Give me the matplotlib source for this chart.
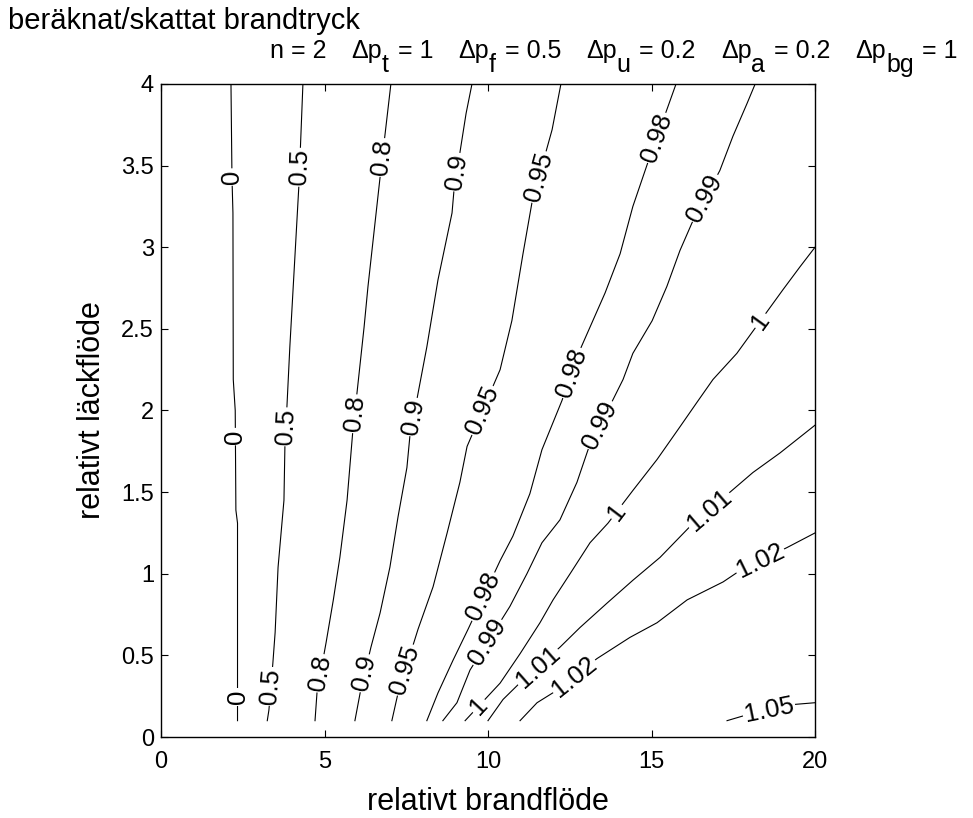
import numpy as np
import matplotlib
matplotlib.use('Agg')
import matplotlib.pyplot as plt

plt.rcParams['font.family'] = ['Liberation Sans', 'DejaVu Sans']

# isolinjer: relativt brandflöde (x) mot relativt läckflöde (y)
x_000 = [2.34, 2.34, 2.29, 2.27, 2.21, 2.20, 2.17, 2.14]
y_000 = [0.10, 1.31, 1.39, 2.00, 2.19, 3.21, 3.43, 4.00]

x_050 = [3.25, 3.30, 3.42, 3.49, 3.58, 3.76, 3.79, 3.85, 3.94, 4.10, 4.22, 4.34]
y_050 = [0.10, 0.165, 0.45, 0.64, 1.04, 1.45, 1.79, 2.02, 2.39, 2.96, 3.39, 4.00]

x_080 = [4.71, 4.77, 5.05, 5.27, 5.47, 5.69, 5.86, 6.21, 6.33, 6.70, 7.03]
y_080 = [0.10, 0.27, 0.58, 0.84, 1.10, 1.45, 1.86, 2.51, 2.76, 3.43, 4.00]

x_090 = [5.93, 6.09, 6.42, 6.70, 7.00, 7.25, 7.52, 7.61, 8.13, 8.47, 8.90, 8.96, 9.33, 9.51]
y_090 = [0.10, 0.27, 0.55, 0.76, 1.04, 1.35, 1.65, 1.84, 2.39, 2.80, 3.21, 3.35, 3.82, 4.00]

x_095 = [7.06, 7.25, 7.86, 8.32, 8.75, 9.14, 9.36, 10.37, 10.73, 11.07, 11.35, 11.96, 12.23]
y_095 = [0.10, 0.27, 0.66, 0.92, 1.25, 1.56, 1.78, 2.25, 2.55, 2.96, 3.28, 3.72, 4.00]

x_098 = [8.13, 8.47, 8.93, 9.39, 10.37, 10.76, 11.28, 11.65, 12.26, 12.81, 13.03,
         13.58, 14.04, 14.43, 14.89, 15.50, 15.75]
y_098 = [0.10, 0.27, 0.47, 0.66, 1.08, 1.23, 1.49, 1.76, 2.06, 2.37, 2.47,
         2.72, 2.96, 3.25, 3.52, 3.86, 4.00]

x_099 = [8.62, 9.05, 9.45, 10.67, 11.19, 11.65, 12.20, 12.72, 13.06, 14.13, 14.43,
         15.02, 15.47, 15.87, 16.24, 17.09, 17.49, 17.92, 18.17]
y_099 = [0.10, 0.21, 0.41, 0.80, 1.00, 1.19, 1.33, 1.56, 1.76, 2.19, 2.35,
         2.55, 2.76, 2.98, 3.15, 3.47, 3.68, 3.88, 4.00]

x_100 = [9.30, 10.37, 10.98, 11.59, 11.99, 12.51, 13.12, 13.67, 14.43, 15.17, 15.87,
         16.39, 16.88, 17.61, 19.02, 19.54, 20.00]
y_100 = [0.10, 0.33, 0.51, 0.70, 0.84, 1.00, 1.19, 1.31, 1.51, 1.70, 1.90,
         2.05, 2.19, 2.35, 2.74, 2.88, 3.00]

x_101 = [10.00, 10.46, 11.07, 12.20, 12.81, 13.64, 14.43, 15.26, 16.18, 18.10, 18.93, 20.00]
y_101 = [0.10, 0.23, 0.35, 0.55, 0.67, 0.82, 0.96, 1.10, 1.29, 1.62, 1.74, 1.91]

x_102 = [10.98, 11.50, 12.14, 13.33, 14.34, 15.17, 16.09, 17.19, 17.71, 19.14, 20.00]
y_102 = [0.10, 0.21, 0.29, 0.48, 0.61, 0.70, 0.84, 0.95, 1.02, 1.16, 1.25]

x_105 = [17.31, 17.90, 19.40, 20.00]
y_105 = [0.10, 0.135, 0.20, 0.21]

levels = ['0', '0.5', '0.8', '0.9', '0.95', '0.98', '0.99', '1', '1.01', '1.02', '1.05']
lines = [(x_000, y_000), (x_050, y_050), (x_080, y_080), (x_090, y_090),
         (x_095, y_095), (x_098, y_098), (x_099, y_099), (x_100, y_100),
         (x_101, y_101), (x_102, y_102), (x_105, y_105)]

# var etiketterna sitter längs varje linje (y-värde)
label_at = [[0.245, 1.84, 3.43],
            [0.31, 1.90, 3.49],
            [0.39, 1.98, 3.55],
            [0.39, 1.96, 3.46],
            [0.41, 2.00, 3.43],
            [0.86, 2.23, 3.67],
            [0.58, 1.91, 3.30],
            [0.19, 1.38, 2.55],
            [0.43, 1.39],
            [0.37, 1.08],
            [0.165]]

xticks = [0, 5, 10, 15, 20]
yticks = [0, 0.5, 1, 1.5, 2, 2.5, 3, 3.5, 4]

W, H = 973, 818
fig = plt.figure(figsize=(W / 100, H / 100), dpi=100)
ax = fig.add_axes([161 / W, 81 / H, 654 / W, 653 / H])

for (xs, ys), lev, where in zip(lines, levels, label_at):
    xs = np.array(xs)
    ys = np.array(ys)
    ax.plot(xs, ys, color='k', lw=0.8)
    for ly in where:
        lx = np.interp(ly, ys, xs)
        dy = 0.04
        x1 = np.interp(ly - dy, ys, xs)
        x2 = np.interp(ly + dy, ys, xs)
        ang = np.degrees(np.arctan2(2 * dy, x2 - x1))
        ax.text(lx, ly, lev, fontsize=18.5, ha='center', va='center',
                rotation=ang, rotation_mode='anchor', transform_rotates_text=True,
                bbox=dict(facecolor='white', edgecolor='none', pad=1.2), zorder=3)

ax.set_xlim(0, 20)
ax.set_ylim(0, 4)
ax.set_xticks(xticks)
ax.set_yticks(yticks)
ax.set_yticklabels(['%g' % v for v in yticks])
ax.tick_params(direction='in', top=True, right=True, length=5, width=0.8, labelsize=17)
ax.tick_params(axis='x', pad=10)
ax.tick_params(axis='y', pad=5)
for s in ax.spines.values():
    s.set_linewidth(1.0)

ax.set_xlabel('relativt brandflöde', fontsize=22, labelpad=10)
ax.set_ylabel('relativt läckflöde', fontsize=22, labelpad=10)

fig.text(8 / W, 1 - 29 / H, 'beräknat/skattat brandtryck', fontsize=21, va='baseline')

# parameterraden med nedsänkta index
params = [('n = 2', ''), ('Δp', 't'), ('= 1', ''), ('Δp', 'f'), ('= 0.5', ''),
          ('Δp', 'u'), ('= 0.2', ''), ('Δp', 'a'), ('= 0.2', ''), ('Δp', 'bg'), ('= 1', '')]
fs_par = 18
renderer = fig.canvas.get_renderer()
em = fs_par * 100 / 72
x = 270
base = H - 58
for txt, sub in params:
    t = fig.text(x / W, base / H, txt, fontsize=fs_par, va='baseline')
    x += t.get_window_extent(renderer).width
    if sub:
        s = fig.text(x / W, (base - 14) / H, sub, fontsize=fs_par, va='baseline')
        x += s.get_window_extent(renderer).width
        x += em * 0.35
    else:
        x += em * 1.0

fig.savefig('out.png', dpi=100)
